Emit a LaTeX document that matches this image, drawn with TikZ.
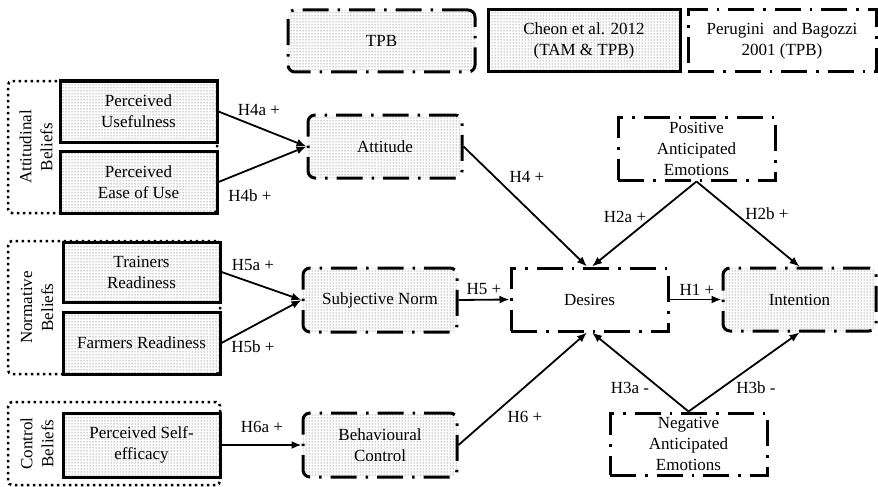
\documentclass[tikz,border=0pt]{standalone}
\usepackage{fontspec}
\setmainfont{Liberation Serif}
\usetikzlibrary{patterns,arrows.meta,calc}
\begin{document}
\begin{tikzpicture}[x=1pt,y=-1pt,
  every node/.style={font=\fontsize{17}{21}\selectfont},
  cheonbox/.style={draw, line width=3pt, pattern=dots, pattern color=black!75, align=center, inner sep=0pt},
  tpbbox/.style={draw, line width=3pt, rounded corners=7pt, dash pattern=on 26pt off 9pt on 2.5pt off 9pt, pattern=dots, pattern color=black!75, align=center, inner sep=0pt},
  pbbox/.style={draw, line width=3pt, dash pattern=on 26pt off 9pt on 2.5pt off 9pt, align=center, inner sep=0pt},
  groupbox/.style={draw, line width=2.5pt, dash pattern=on 2.5pt off 3.5pt, rounded corners=4pt, inner sep=0pt},
  sz/.style 2 args={minimum width=#1pt, minimum height=#2pt},
  arr/.style={line width=1.8pt, -{Latex[length=10pt,width=8pt]}},
  hyp/.style={inner sep=0pt}
]
\useasboundingbox (0,0) rectangle (878,487);

% legend
\node[tpbbox, sz={187}{62}] (lgtpb) at (381.5,41) {TPB};
\node[cheonbox, sz={192}{62}] (lgcheon) at (584,41) {Cheon et al. 2012\\(TAM \& TPB)};
\node[pbbox, sz={188}{62}] (lgpb) at (782,41) {Perugini~ and Bagozzi\\2001 (TPB)};

% belief groups
\node[groupbox, sz={209}{132}] (gatt) at (112.5,147) {};
\node[groupbox, sz={212}{133}] (gnorm) at (114,307.5) {};
\node[groupbox, sz={212}{83}] (gctrl) at (114,443.5) {};
\node[rotate=90, align=center] (tatt) at (36,147) {Attitudinal\\Beliefs};
\node[rotate=90, align=center] (tnorm) at (37,307.5) {Normative\\Beliefs};
\node[rotate=90, align=center] (tctrl) at (37,443.5) {Control\\Beliefs};

% belief boxes
\node[cheonbox, sz={157}{61}] (pu) at (138.5,111.5) {Perceived\\Usefulness};
\node[cheonbox, sz={157}{62}] (peou) at (138.5,182) {Perceived\\Ease of Use};
\node[cheonbox, sz={157}{60}] (tr) at (141.5,272) {Trainers\\Readiness};
\node[cheonbox, sz={157}{62}] (fr) at (141.5,343) {Farmers Readiness};
\node[cheonbox, sz={157}{64}] (pse) at (141.5,445) {Perceived Self-\\efficacy};

% TPB constructs
\node[tpbbox, sz={154}{63}] (att) at (385,146.5) {Attitude};
\node[tpbbox, sz={154}{64}] (sn) at (380,300) {Subjective Norm};
\node[tpbbox, sz={154}{64}] (bc) at (380,445) {Behavioural\\Control};
\node[tpbbox, sz={153}{63}] (int) at (799.5,299.5) {Intention};

% Perugini & Bagozzi constructs
\node[pbbox, sz={157}{63}] (des) at (589.5,299.5) {Desires};
\node[pbbox, sz={157}{63}] (pae) at (696.5,148.5) {Positive\\Anticipated\\Emotions};
\node[pbbox, sz={157}{62}] (nae) at (688.5,444) {Negative\\Anticipated\\Emotions};

% connectors
\draw[arr] (pu.east) -- (att.west);
\draw[arr] (peou.east) -- (att.west);
\draw[arr] (tr.east) -- (sn.west);
\draw[arr] (fr.east) -- (sn.west);
\draw[arr] (pse.east) -- (bc.west);
\draw[arr] (att.east) -- ($(des.north)+(-2.5,0)$);
\draw[arr] (sn.east) -- (des.west);
\draw[arr] (bc.east) -- ($(des.south)+(-2.5,0)$);
\draw[arr] (pae.south) -- ($(des.north)+(2.5,0)$);
\draw[arr] (pae.south) -- (int.north);
\draw[arr] (nae.north) -- ($(des.south)+(2.5,0)$);
\draw[arr] (nae.north) -- (int.south);
\draw[arr] (des.east) -- (int.west);

% hypothesis labels
\node[hyp] (h4a) at (259,110) {H4a +};
\node[hyp] (h4b) at (250,196) {H4b +};
\node[hyp] (h5a) at (253,265) {H5a +};
\node[hyp] (h5b) at (253,347) {H5b +};
\node[hyp] (h6a) at (262,427) {H6a +};
\node[hyp] (h4) at (527,177) {H4 +};
\node[hyp] (h5) at (484,289) {H5 +};
\node[hyp] (h2a) at (625,217) {H2a +};
\node[hyp] (h2b) at (767,214) {H2b +};
\node[hyp] (h1) at (697,290) {H1 +};
\node[hyp] (h3a) at (630,388) {H3a -};
\node[hyp] (h3b) at (756,388) {H3b -};
\node[hyp] (h6) at (525,417) {H6 +};
\end{tikzpicture}
\end{document}
